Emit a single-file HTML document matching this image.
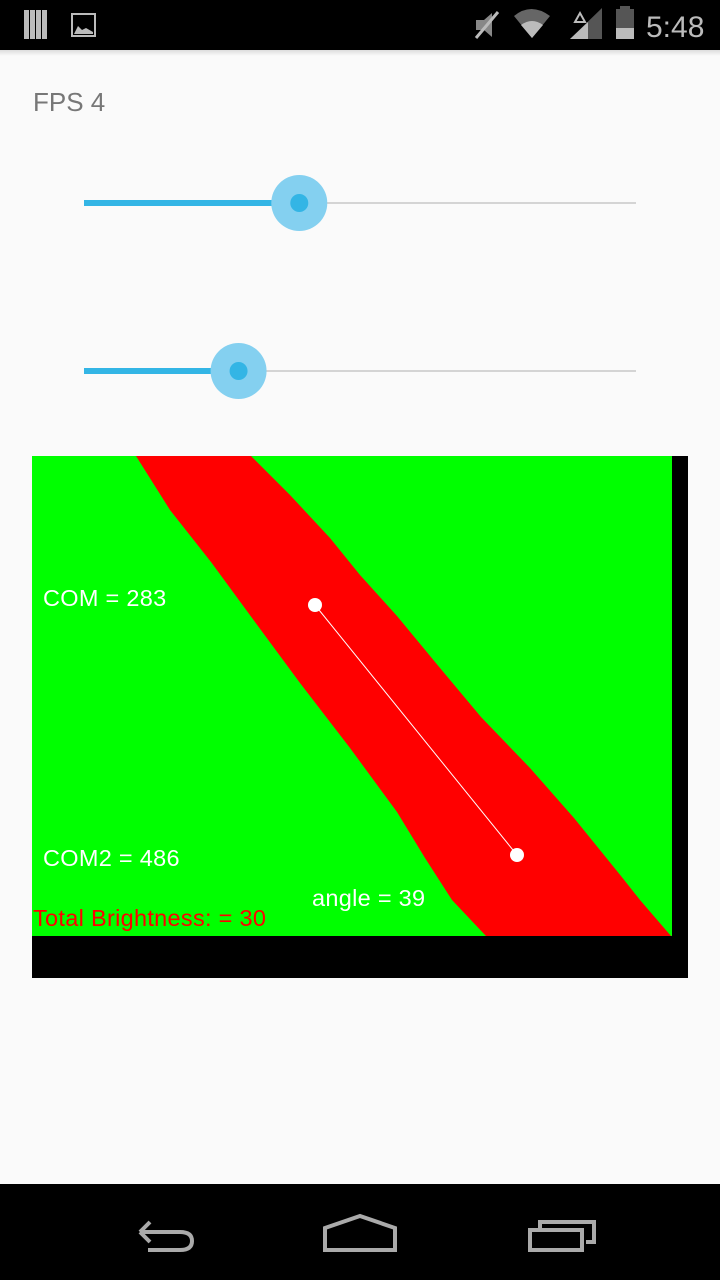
<!DOCTYPE html>
<html><head><meta charset="utf-8">
<style>
html,body{margin:0;padding:0;}
body{width:720px;height:1280px;background:#fafafa;position:relative;overflow:hidden;font-family:"Liberation Sans",sans-serif;}
.abs{position:absolute;}
</style></head>
<body>
<div class="abs" style="left:0;top:0;width:720px;height:50px;background:#000;">
  <svg width="720" height="50" style="position:absolute;left:0;top:0">
    <g fill="#bbb">
      <rect x="24" y="10" width="5" height="29"/><rect x="30" y="10" width="5" height="29"/><rect x="36" y="10" width="5" height="29"/><rect x="42" y="10" width="5" height="29"/>
    </g>
    <g>
      <rect x="72" y="14" width="23" height="22" fill="none" stroke="#bbb" stroke-width="2"/>
      <path d="M74 34 L78 26 L82 30 L86 28 L93 32 L93 34 Z" fill="#bbb"/>
    </g>
    <g stroke="#bbb" stroke-width="3" fill="none">
      <path d="M476 20 L484 20 L492 13 L492 37 L484 30 L476 30 Z" fill="#888" stroke="none"/>
      <line x1="476" y1="38" x2="498" y2="12"/>
    </g>
    <g>
      <path d="M514 16 Q531 2 550 16 L532 38 Z" fill="#666"/>
      <path d="M521 25 Q532 17 543 25 L532 38 Z" fill="#bbb"/>
    </g>
    <g>
      <path d="M570 39 L602 39 L602 8 Z" fill="#555"/>
      <path d="M570 39 L588 39 L588 22 Z" fill="#bbb"/>
      <path d="M575 22 L580 13 L585 22 Z" fill="none" stroke="#bbb" stroke-width="2"/>
    </g>
    <g>
      <rect x="616" y="9" width="18" height="30" fill="#555"/>
      <rect x="620" y="6" width="10" height="4" fill="#555"/>
      <rect x="616" y="28" width="18" height="11" fill="#bbb"/>
    </g>
    <text x="646" y="37" font-size="30" fill="#bbb" font-family="Liberation Sans">5:48</text>
  </svg>
</div>
<div class="abs" style="left:33px;top:87px;font-size:26px;color:#777;">FPS 4</div>

<svg class="abs" style="left:0;top:0" width="720" height="1280" id="ui">
  <defs><linearGradient id="sh" x1="0" y1="0" x2="0" y2="1"><stop offset="0" stop-color="#000" stop-opacity="0.12"/><stop offset="1" stop-color="#000" stop-opacity="0"/></linearGradient></defs>
  <rect x="0" y="50" width="720" height="6" fill="url(#sh)"/>
  <g id="sliders"></g>
  <g font-size="23.5" letter-spacing="0.3">
    <rect x="32" y="456" width="656" height="522" fill="#000"/>
    <rect x="32" y="456" width="640" height="480" fill="#00ff00"/>
    <polygon id="band" fill="#ff0000"/>
    <line id="comline" stroke="#fff" stroke-width="1"/>
    <g id="dots"></g>
    <text x="43" y="606" fill="#fff">COM = 283</text>
    <text x="43" y="866" fill="#fff">COM2 = 486</text>
    <text x="312" y="906" fill="#fff">angle = 39</text>
    <text x="33" y="926" fill="#ff0000">Total Brightness: = 30</text>
  </g>
  <rect x="0" y="1184" width="720" height="96" fill="#000"/>
  <g fill="none" stroke="#aaa" stroke-width="4">
    <path d="M142 1232 L180 1232 Q192 1232 192 1241 Q192 1250 180 1250 L148 1250"/>
    <path d="M140 1232 L150 1222 M140 1232 L150 1242"/>
  </g>
  <path d="M325 1228 L360 1216 L395 1228 L395 1250 L325 1250 Z" fill="none" stroke="#aaa" stroke-width="4"/>
  <g fill="none" stroke="#aaa" stroke-width="4">
    <rect x="530" y="1230" width="52" height="20"/>
    <path d="M540 1228 L540 1222 L594 1222 L594 1242 L586 1242"/>
  </g>
</svg>
<script>
const sliderValues=[0.39,0.28];
const sliderRows=[203,371];
const dotXs=[315,517];
const dotYs=[605,855];
const bandLeft=[[136,456],[170,510],[211,562],[255,622],[300,683],[350,748],[397,812],[425,858],[452,900],[486,936]];
const bandRight=[[671,936],[640,900],[621,876],[574,818],[530,768],[481,717],[440,668],[397,616],[360,575],[330,538],[290,495],[251,456]];
const g=document.getElementById('sliders');
const x0=84,x1=636;
sliderValues.forEach((v,i)=>{
  const y=sliderRows[i];const xv=x0+(x1-x0)*v;
  const ns='http://www.w3.org/2000/svg';
  const track=document.createElementNS(ns,'line');
  
  
  track.setAttribute('x1',x0);track.setAttribute('x2',x1);track.setAttribute('y1',y);track.setAttribute('y2',y);
  track.setAttribute('stroke','#d4d4d4');track.setAttribute('stroke-width','2');g.appendChild(track);
  const fill=document.createElementNS(ns,'line');
  
  
  fill.setAttribute('x1',x0);fill.setAttribute('x2',xv);fill.setAttribute('y1',y);fill.setAttribute('y2',y);
  fill.setAttribute('stroke','#33b5e5');fill.setAttribute('stroke-width','6');g.appendChild(fill);
  const halo=document.createElementNS(ns,'circle');
  
  
  halo.setAttribute('cx',xv);halo.setAttribute('cy',y);halo.setAttribute('r','28');halo.setAttribute('fill','#84d0f0');g.appendChild(halo);
  const th=document.createElementNS(ns,'circle');
  
  
  th.setAttribute('cx',xv);th.setAttribute('cy',y);th.setAttribute('r','9');th.setAttribute('fill','#33b5e5');g.appendChild(th);
});
document.getElementById('band').setAttribute('points',bandLeft.concat(bandRight).map(p=>p.join(',')).join(' '));
const ln=document.getElementById('comline');
ln.setAttribute('x1',dotXs[0]);ln.setAttribute('y1',dotYs[0]);ln.setAttribute('x2',dotXs[1]);ln.setAttribute('y2',dotYs[1]);
const dg=document.getElementById('dots');
dotXs.forEach((x,i)=>{
  const c=document.createElementNS('http://www.w3.org/2000/svg','circle');
  
  
  c.setAttribute('cx',x);c.setAttribute('cy',dotYs[i]);c.setAttribute('r','7');c.setAttribute('fill','#fff');dg.appendChild(c);
});
</script>
</body></html>
